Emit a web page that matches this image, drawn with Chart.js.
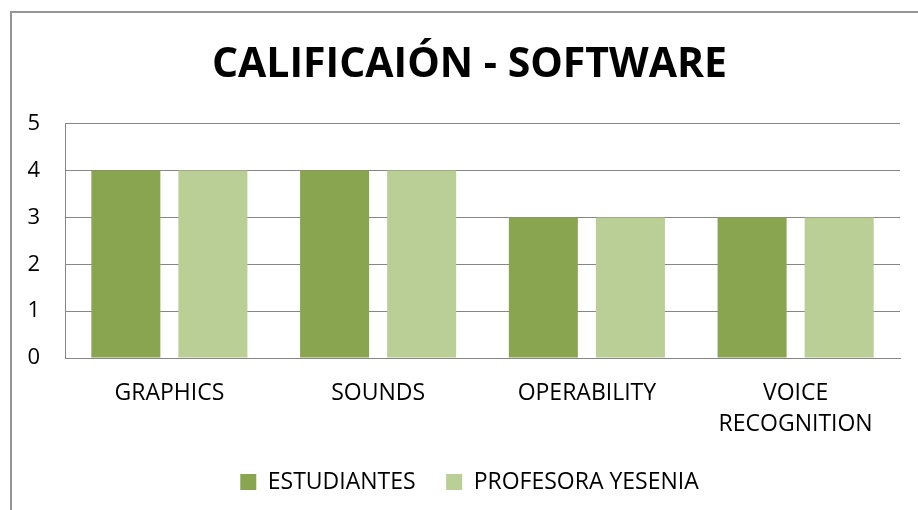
<!DOCTYPE html>
<html>
<head>
<meta charset="utf-8">
<script src="https://cdn.jsdelivr.net/npm/chart.js@4.4.1/dist/chart.umd.min.js"></script>
<style>
  html, body { margin: 0; padding: 0; background: #fff; overflow: hidden; }
  #frame { position: absolute; left: 10px; top: 11px; width: 1000px; height: 1000px; border: 2px solid #969696; }
  #wrap { position: absolute; left: 0; top: 0; width: 939px; height: 510px; }
</style>
</head>
<body>
<div id="frame"></div>
<div id="wrap"><canvas id="chart"></canvas></div>
<script>
const categories = ["GRAPHICS", "SOUNDS", "OPERABILITY", ["VOICE", "RECOGNITION"]];
const estudiantes = [4, 4, 3, 3];
const profesora = [4, 4, 3, 3];
const yTicks = [0, 1, 2, 3, 4, 5];

const font = "'Open Sans', 'DejaVu Sans', sans-serif";
const gridColor = "#868686";

const ctx = document.querySelector("#chart").getContext("2d");

new Chart(ctx, {
  type: "bar",
  data: {
    labels: categories,
    datasets: [
      {
        label: "ESTUDIANTES",
        data: estudiantes,
        backgroundColor: "#8aa54f",
        categoryPercentage: 0.834,
        barPercentage: 0.793,
      },
      {
        label: "PROFESORA YESENIA",
        data: profesora,
        backgroundColor: "#b9cf96",
        categoryPercentage: 0.834,
        barPercentage: 0.793,
      },
    ],
  },
  options: {
    responsive: true,
    maintainAspectRatio: false,
    animation: false,
    layout: { padding: { left: 0, right: 0, top: 0, bottom: 6.5 } },
    plugins: {
      title: {
        display: true,
        text: "CALIFICAIÓN - SOFTWARE",
        color: "#000",
        font: { family: font, size: 41, weight: "bold", lineHeight: 1.2 },
        padding: { top: 40.5, bottom: 34 },
      },
      legend: {
        position: "bottom",
        labels: {
          color: "#000",
          font: { family: font, size: 23 },
          boxWidth: 16,
          boxHeight: 16,
          padding: 30.5,
        },
      },
      tooltip: { enabled: false },
    },
    scales: {
      x: {
        afterFit: (axis) => {
          axis.height = 82;
        },
        grid: { display: false, drawTicks: false },
        border: { display: true, color: gridColor, width: 1 },
        ticks: {
          color: "#000",
          font: { family: font, size: 23, lineHeight: 1.348 },
          padding: 20,
          maxRotation: 0,
        },
      },
      y: {
        min: 0,
        max: 5,
        afterBuildTicks: (axis) => {
          axis.ticks = yTicks.map((v) => ({ value: v }));
        },
        afterFit: (axis) => {
          axis.width = 65;
        },
        grid: { color: gridColor, drawTicks: false, lineWidth: 1 },
        border: { display: true, color: gridColor, width: 1 },
        ticks: {
          color: "#000",
          font: { family: font, size: 22 },
          padding: 25,
        },
      },
      // empty right-hand axis: leaves the right margin while the title stays centred on the frame
      spacer: {
        type: "linear",
        position: "right",
        grid: { display: false, drawTicks: false },
        border: { display: false },
        ticks: { display: false },
        afterFit: (axis) => {
          axis.width = 39;
        },
      },
    },
  },
});
</script>
</body>
</html>
